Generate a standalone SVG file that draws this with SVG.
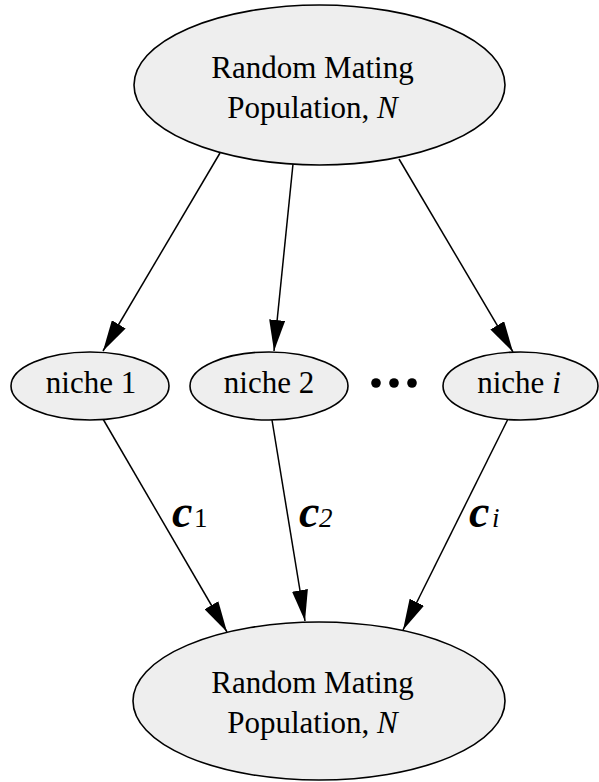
<svg xmlns="http://www.w3.org/2000/svg" width="599" height="782" viewBox="0 0 599 782">
  <style>
    .node ellipse { fill: #eeeeee; stroke: #000000; stroke-width: 1.6; }
    .lbl { font-family: "Liberation Serif", "Times New Roman", serif; font-size: 31px; fill: #000000; }
    .it { font-style: italic; }
    .edge { stroke: #000000; stroke-width: 1.5; fill: none; marker-end: url(#head); }
    .coef { font-family: "Liberation Serif", "Times New Roman", serif; fill: #000000; }
    .coef .c { font-size: 46px; font-style: italic; font-weight: bold; }
    .coef .sub { font-size: 27px; }
  </style>
  <defs>
    <marker id="head" markerUnits="userSpaceOnUse" markerWidth="31" markerHeight="16" refX="31" refY="8" orient="auto">
      <path d="M0,0 L31,8 L0,16 Z" fill="#000000"/>
    </marker>
  </defs>

  <rect width="599" height="782" fill="#ffffff"/>

  <!-- connectors -->
  <g id="edges">
    <line class="edge" x1="220" y1="153" x2="103" y2="351"/>
    <line class="edge" x1="293" y1="164" x2="274" y2="351"/>
    <line class="edge" x1="399" y1="159" x2="513" y2="352"/>
    <line class="edge" x1="103" y1="419" x2="227" y2="632"/>
    <line class="edge" x1="272" y1="420" x2="305" y2="621"/>
    <line class="edge" x1="508" y1="419" x2="403" y2="630"/>
  </g>

  <!-- edge coefficients -->
  <g id="edge-labels" class="coef">
    <text x="172" y="527"><tspan class="c">c</tspan><tspan class="sub" x="194">1</tspan></text>
    <text x="299" y="527"><tspan class="c">c</tspan><tspan class="sub it" x="319">2</tspan></text>
    <text x="469" y="527"><tspan class="c">c</tspan><tspan class="sub it" x="492">i</tspan></text>
  </g>

  <!-- source population -->
  <g id="pop-top" class="node">
    <ellipse cx="319.5" cy="85" rx="185.5" ry="80"/>
    <text class="lbl" x="312.5" y="78" text-anchor="middle">Random Mating</text>
    <text class="lbl" x="312.5" y="118" text-anchor="middle">Population, <tspan class="it">N</tspan></text>
  </g>

  <!-- niches -->
  <g id="niche-1" class="node">
    <ellipse cx="90" cy="386" rx="79" ry="34"/>
    <text class="lbl" x="91" y="393" text-anchor="middle">niche 1</text>
  </g>
  <g id="niche-2" class="node">
    <ellipse cx="269" cy="386" rx="79" ry="34"/>
    <text class="lbl" x="269" y="393" text-anchor="middle">niche 2</text>
  </g>
  <g id="ellipsis">
    <circle cx="376" cy="383" r="4.8" fill="#000000"/>
    <circle cx="394" cy="383" r="4.8" fill="#000000"/>
    <circle cx="412" cy="383" r="4.8" fill="#000000"/>
  </g>
  <g id="niche-i" class="node">
    <ellipse cx="520.5" cy="386" rx="77.5" ry="34"/>
    <text class="lbl" x="519" y="393" text-anchor="middle">niche <tspan class="it">i</tspan></text>
  </g>

  <!-- resulting population -->
  <g id="pop-bottom" class="node">
    <ellipse cx="319" cy="701" rx="186" ry="79"/>
    <text class="lbl" x="312.5" y="693" text-anchor="middle">Random Mating</text>
    <text class="lbl" x="312.5" y="733" text-anchor="middle">Population, <tspan class="it">N</tspan></text>
  </g>
</svg>
